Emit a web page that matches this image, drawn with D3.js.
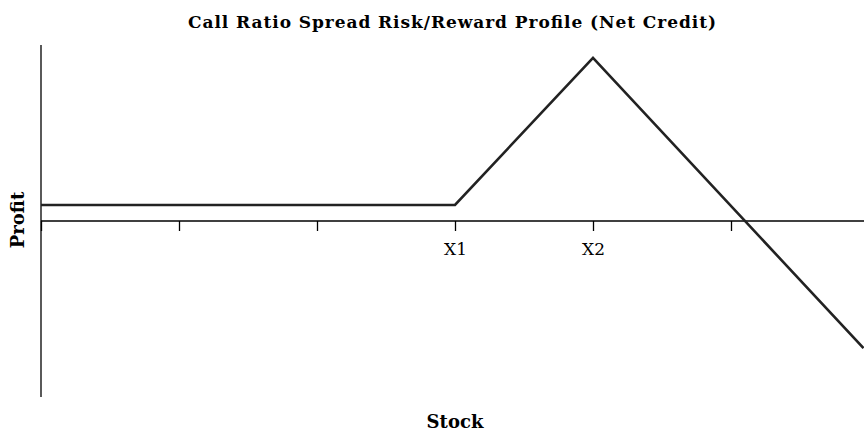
<!DOCTYPE html>
<html lang="en">
<head>
    <meta charset="UTF-8">
    <title>Call Ratio Spread</title>
    <script type="text/javascript" src="https://d3js.org/d3.v7.min.js"></script>
    <style>
        body{ margin:0; background-color:white; }
        svg{ display:block; }
    </style>
</head>
<body>
    <script type="text/javascript">
        var width=864;
        var height=431;

        // payoff corners: flat credit, rise from X1 to X2, then fall
        var stock=[0, 3, 4, 5.96];
        var profit=[1, 1, 10.2, -7.95];
        var tickVals=[0, 1, 2, 3, 4, 5];
        var tickLabels=["", "", "", "X1", "X2", ""];

        var x=d3.scaleLinear().domain([0,6]).range([41,869]);
        var y=d3.scaleLinear().domain([-11,11]).range([397,45]);

        var svg=d3.select("body").append("svg")
                .attr("width",width)
                .attr("height",height);

        // title
        svg.append("text")
            .attr("x",452)
            .attr("y",28)
            .attr("text-anchor","middle")
            .attr("textLength",528)
            .attr("lengthAdjust","spacing")
            .style("font-family","'DejaVu Serif', serif")
            .style("font-weight","bold")
            .style("font-size","17px")
            .text("Call Ratio Spread Risk/Reward Profile (Net Credit)");

        // x axis through zero
        var xAxis=d3.axisBottom(x)
                .tickValues(tickVals)
                .tickFormat(function(d,i){ return tickLabels[i]; })
                .tickSize(10);
        var gx=svg.append("g")
            .attr("transform","translate(0,"+y(0)+")")
            .call(xAxis);
        gx.select(".domain").attr("d","M"+x(0)+",0H"+width).attr("stroke","#000").attr("stroke-width",1.3);
        gx.selectAll(".tick line").attr("stroke","#000").attr("stroke-width",1.3);
        gx.selectAll(".tick text")
            .attr("fill","#000")
            .attr("y",34)
            .attr("dy",null)
            .style("font-family","'DejaVu Serif', serif")
            .style("font-size","17px");

        // y axis (no ticks)
        svg.append("line")
            .attr("x1",x(0)).attr("x2",x(0))
            .attr("y1",y(11)).attr("y2",y(-11))
            .attr("stroke","#000")
            .attr("stroke-width",1.3);

        // profit line
        var line=d3.line()
                .x(function(d,i){ return x(stock[i]); })
                .y(function(d){ return y(d); });
        svg.append("path")
            .datum(profit)
            .attr("d",line)
            .attr("fill","none")
            .attr("stroke","#222")
            .attr("stroke-width",2.6);

        // axis titles
        svg.append("text")
            .attr("x",455)
            .attr("y",428)
            .attr("text-anchor","middle")
            .style("font-family","'DejaVu Serif', serif")
            .style("font-weight","bold")
            .style("font-size","18px")
            .text("Stock");

        svg.append("text")
            .attr("transform","translate(24,220) rotate(-90)")
            .attr("text-anchor","middle")
            .style("font-family","'DejaVu Serif', serif")
            .style("font-weight","bold")
            .style("font-size","18px")
            .text("Profit");
    </script>
</body>
</html>
